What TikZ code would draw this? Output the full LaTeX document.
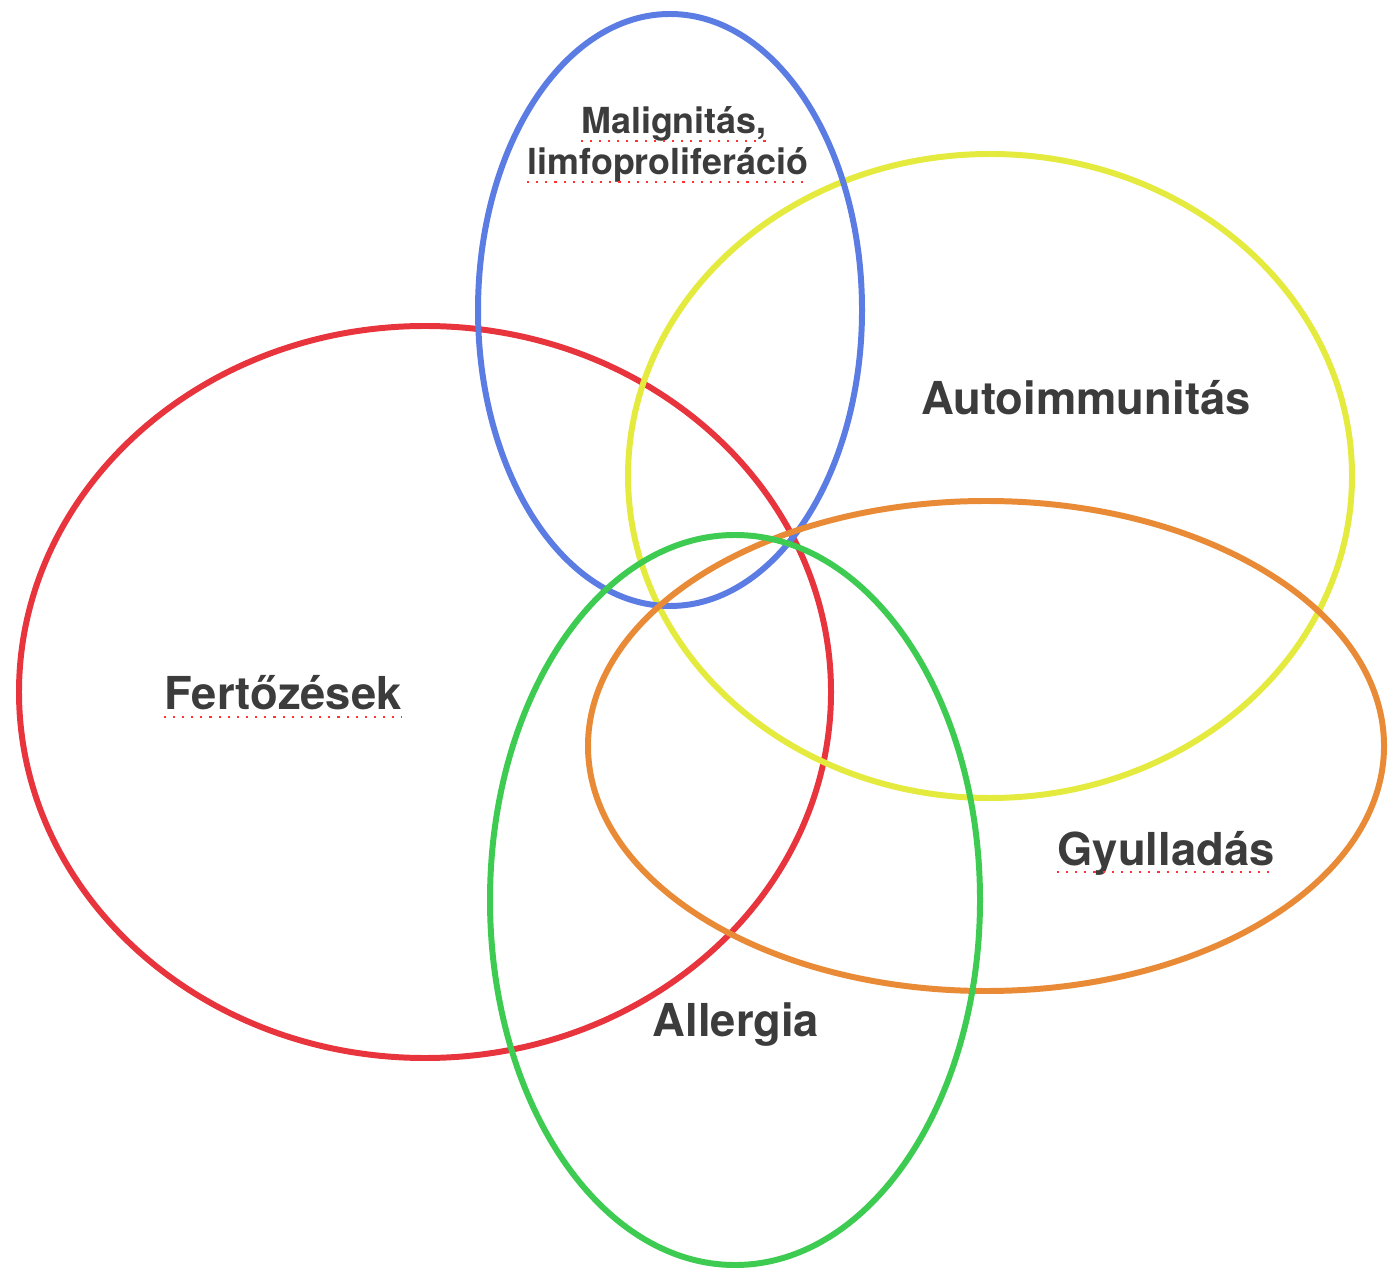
\documentclass[tikz,border=0pt]{standalone}
\usepackage{fontspec}
\setmainfont{TeX Gyre Heros}
\usetikzlibrary{calc}
\definecolor{RingRed}{HTML}{E8343D}
\definecolor{RingBlue}{HTML}{5B7CE2}
\definecolor{RingYellow}{HTML}{E4EA3E}
\definecolor{RingOrange}{HTML}{E98B36}
\definecolor{RingGreen}{HTML}{3DCB52}
\definecolor{DGray}{HTML}{3C3C3C}
\tikzset{
    ring/.style={line width=1.7pt},
    lbl/.style={font=\bfseries\fontsize{12.9}{15}\selectfont, text=DGray, inner sep=0pt},
    smalllbl/.style={font=\bfseries\fontsize{10.2}{12}\selectfont, text=DGray, inner sep=0pt},
    squiggle/.style={red!80, dotted, line width=0.6pt}
}
\newcommand{\Underline}[1]{
    \draw[squiggle] ($(#1.base west)+(0,7)$) -- ($(#1.base east)+(0,7)$);
}

\begin{document}
\begin{tikzpicture}[x=0.01cm, y=-0.01cm]
\useasboundingbox (0,0) rectangle (1389,1271);

\coordinate (red-center) at (425,692);
\coordinate (blue-center) at (670,310);
\coordinate (yellow-center) at (990,476);
\coordinate (orange-center) at (986,746);
\coordinate (green-center) at (735,900);

\draw[RingRed, ring] (red-center) ellipse [x radius=406, y radius=366];
\draw[RingYellow, ring] (yellow-center) ellipse [x radius=362, y radius=322];
\draw[RingBlue, ring] (blue-center) ellipse [x radius=192, y radius=296];
\draw[RingOrange, ring] (orange-center) ellipse [x radius=398, y radius=245];
\draw[RingGreen, ring] (green-center) ellipse [x radius=245, y radius=365];

\node[smalllbl] (malig) at (674,124) {Malignitás,};
\node[smalllbl] (limfo) at (668,165) {limfoproliferáció};
\node[lbl] (auto) at (1086,398) {Autoimmunitás};
\node[lbl] (fert) at (283,693) {Fertőzések};
\node[lbl] (gyull) at (1166,853) {Gyulladás};
\node[lbl] (allerg) at (736,1025) {Allergia};

\Underline{malig}
\Underline{limfo}
\Underline{fert}
\Underline{gyull}
\end{tikzpicture}
\end{document}
